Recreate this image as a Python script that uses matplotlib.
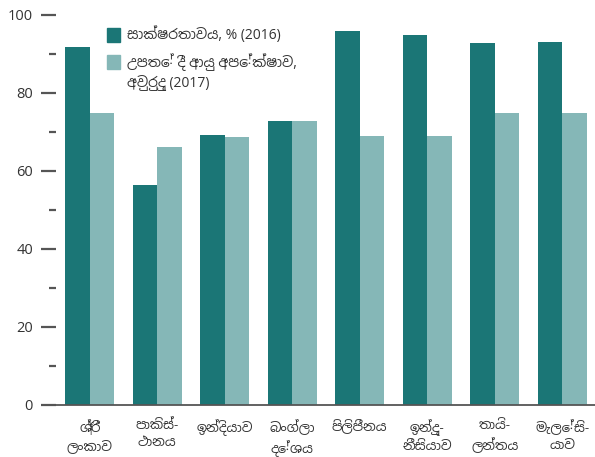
import numpy as np
import matplotlib
matplotlib.use('Agg')
import matplotlib.pyplot as plt
from matplotlib.patches import Rectangle

countries = ['ශ්‍රී\nලංකාව', 'පාකිස්-\nථානය', 'ඉන්දියාව', 'බංග්ලා\nදේශය',
             'පිලිපීනය', 'ඉන්දු-\nනීසියාව', 'තායි-\nලන්තය', 'මැලේසි-\nයාව']
literacy = [91.7, 56.4, 69.3, 72.8, 96.0, 95.0, 92.7, 93.1]
life_exp = [75.0, 66.2, 68.6, 72.7, 69.0, 69.0, 75.0, 75.0]
label_lit = 'සාක්ෂරතාවය, % (2016)'
label_life = 'උපතේ දී ආයු අපේක්ෂාව,\nඅවුරුදු (2017)'

dark = '#1b7676'
light = '#85b7b7'
grey = '#555555'
txt = '#333333'

plt.rcParams['font.family'] = ['Open Sans', 'Noto Sans Sinhala', 'DejaVu Sans']

fig = plt.figure(figsize=(5.95, 4.57), dpi=100)
ax = fig.add_axes([56/595, 52/457, 540/595, 390/457])

x = np.arange(len(countries))
w = 0.3625
ax.bar(x - w/2, literacy, w, color=dark)
ax.bar(x + w/2, life_exp, w, color=light)

ax.set_xlim(-0.5, 7.5)
ax.set_ylim(0, 100)
for s in ['top', 'right', 'left', 'bottom']:
    ax.spines[s].set_visible(False)
# base line reaches a little left of the tick marks
ax.axhline(0, xmin=-11/540, xmax=1, color=grey, lw=1.3, clip_on=False)

ax.set_yticks(np.arange(0, 101, 20))
ax.set_yticks(np.arange(10, 100, 20), minor=True)
ax.tick_params(axis='y', which='major', length=10.5, width=1.6, color=grey,
               labelsize=10.5, labelcolor=txt, pad=6)
ax.tick_params(axis='y', which='minor', length=5, width=1.6, color=grey)
ax.set_xticks(x)
ax.set_xticklabels(countries, fontsize=9.5, color=txt, linespacing=1.4)
ax.tick_params(axis='x', length=0, pad=10)

# legend
fig.patches.append(Rectangle((107/595, 1 - 42/457), 13/595, 14/457,
                             transform=fig.transFigure, color=dark))
fig.patches.append(Rectangle((107/595, 1 - 69/457), 13/595, 14/457,
                             transform=fig.transFigure, color=light))
fig.text(127/595, 1 - 35/457, label_lit, fontsize=10, color=txt, va='center')
fig.text(127/595, 1 - 53/457, label_life, fontsize=10, color=txt, va='top',
         linespacing=1.4)

fig.savefig('out.png', dpi=100)
